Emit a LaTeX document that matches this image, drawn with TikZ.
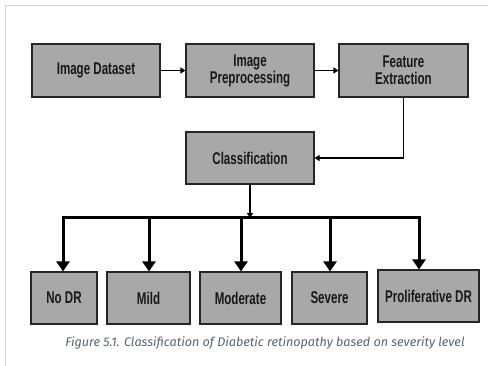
\documentclass[tikz,border=0pt]{standalone}
\usepackage{fontspec}
\usetikzlibrary{arrows.meta,positioning}
\newfontfamily\boxfont{Liberation Sans}[FakeStretch=0.68]
\newfontfamily\capfont{Fira Sans}
\definecolor{boxgray}{RGB}{168,168,168}
\definecolor{framegray}{RGB}{212,212,212}
\definecolor{captiongray}{RGB}{88,98,110}
\def\busy{218}
\def\boxH{53}

\begin{document}
\begin{tikzpicture}[x=1pt,y=-1pt,line cap=butt,
  stagebox/.style={draw=black!85,fill=boxgray,line width=1.1pt,minimum height=\boxH pt,
    inner sep=0pt,align=center,font=\boxfont\bfseries\fontsize{17}{17}\selectfont,text=black!90},
  thinarrow/.style={line width=1.6pt,-{Triangle[length=5pt,width=6pt]}},
  thickarrow/.style={line width=3pt,-{Triangle[length=10pt,width=13pt]}}]
  \useasboundingbox (0,0) rectangle (488,366);
  \draw[framegray,line width=1.2pt] (5.5,366) -- (5.5,5.5) -- (488,5.5);
  % top row
  \node[stagebox,minimum width=128pt] (dataset) at (96,70.5) {Image Dataset};
  \node[stagebox,minimum width=128pt] (preproc) at (250,70.5) {Image\\Preprocessing};
  \node[stagebox,minimum width=129pt] (feature) at (403.5,70.5) {Feature\\Extraction};
  \node[stagebox,minimum width=128pt,minimum height=52pt] (classif) at (250,158) {Classification};
  \draw[thinarrow] (dataset) -- (preproc);
  \draw[thinarrow] (preproc) -- (feature);
  \draw[thinarrow] (feature.south) |- (classif.east);
  % severity levels
  \foreach \nm/\cx/\w/\cy/\txt in {nodr/64/66/298/No DR, mild/148.5/83/298/Mild,
      moderate/240.5/81/298/Moderate, severe/329.5/75/298/Severe,
      prolif/428.5/101/296/Proliferative DR} {
    \node[stagebox,minimum width=\w pt,minimum height=52pt] (\nm) at (\cx,\cy) {\txt};
  }
  \coordinate (busL) at (63,\busy);
  \coordinate (busR) at (419,\busy);
  \draw[line width=3pt,line cap=rect] (busL) -- (busR);
  \draw[thinarrow] (classif.south) -- (classif.south |- busL);
  \foreach \nm/\ax in {nodr/63, mild/149, moderate/241, severe/330, prolif/419} {
    \coordinate (drop-\nm) at (\ax,\busy);
    \draw[thickarrow] (drop-\nm) -- (drop-\nm |- \nm.north);
  }
  \node[font=\capfont\itshape\fontsize{12.6}{14}\selectfont,text=captiongray] (caption) at (265,343)
    {Figure 5.1. Classification of Diabetic retinopathy based on severity level};
\end{tikzpicture}
\end{document}
